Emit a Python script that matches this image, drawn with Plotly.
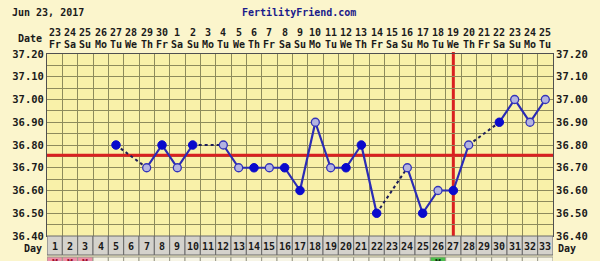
import plotly.graph_objects as go

# ---------------- data ----------------
days = list(range(1, 34))
date_labels = ["23", "24", "25", "26", "27", "28", "29", "30", "1", "2", "3", "4", "5", "6", "7", "8",
               "9", "10", "11", "12", "13", "14", "15", "16", "17", "18", "19", "20", "21", "22",
               "23", "24", "25"]
dow_labels = ["Fr", "Sa", "Su", "Mo", "Tu", "We", "Th", "Fr", "Sa", "Su", "Mo", "Tu", "We", "Th", "Fr", "Sa",
              "Su", "Mo", "Tu", "We", "Th", "Fr", "Sa", "Su", "Mo", "Tu", "We", "Th", "Fr", "Sa",
              "Su", "Mo", "Tu"]
temps = [None, None, None, None, 36.80, None, 36.70, 36.80, 36.70, 36.80, None, 36.80, 36.70,
         36.70, 36.70, 36.70, 36.60, 36.90, 36.70, 36.70, 36.80, 36.50, None, 36.70, 36.50,
         36.60, 36.60, 36.80, None, 36.90, 37.00, 36.90, 37.00]
# 1 = filled marker, 0 = open marker
filled = [0, 0, 0, 0, 1, 0, 0, 1, 0, 1, 0, 0, 0, 1, 0, 1, 1, 0, 0, 1, 1, 1, 0, 0, 1, 0, 1, 0, 0, 1, 0, 0, 0]
coverline = 36.755
ovulation_day = 27
y_ticks = [36.40, 36.50, 36.60, 36.70, 36.80, 36.90, 37.00, 37.10, 37.20]
chart_date = "Jun 23, 2017"
site = "FertilityFriend.com"
pink_days = [1, 2, 3]
green_days = [26]

# ---------------- layout geometry ----------------
W, H = 600, 261
ML, MR, MT, MB = 42, 38, 54, 25
PH = H - MT - MB  # plot height in px
PW = W - ML - MR


def py(px_from_top):
    """convert a pixel row to paper y"""
    return 1 - (px_from_top - MT) / PH


BG = "#FBF5CC"
PLOT_BG = "#F9F1A9"
GRID = "#8E8B5C"
FONT = "DejaVu Sans Mono"
TXT = "#1A1A1A"

fig = go.Figure()

# solid segments (gaps break them)
fig.add_trace(go.Scatter(x=days, y=temps, mode="lines", connectgaps=False,
                         line=dict(color="#2B2BB5", width=2.2), hoverinfo="skip", showlegend=False))

# dashed segments across gaps
for i, t in enumerate(temps):
    if t is None and i > 0 and temps[i - 1] is not None:
        j = i
        while j < len(temps) and temps[j] is None:
            j += 1
        if j < len(temps):
            fig.add_trace(go.Scatter(x=[days[i - 1], days[j]], y=[temps[i - 1], temps[j]], mode="lines",
                                     line=dict(color="#1C1C5A", width=2, dash="3px,3px"),
                                     hoverinfo="skip", showlegend=False))

# markers
xs_f = [d for d, t, f in zip(days, temps, filled) if t is not None and f]
ys_f = [t for t, f in zip(temps, filled) if t is not None and f]
xs_o = [d for d, t, f in zip(days, temps, filled) if t is not None and not f]
ys_o = [t for t, f in zip(temps, filled) if t is not None and not f]
fig.add_trace(go.Scatter(x=xs_o, y=ys_o, mode="markers", showlegend=False,
                         marker=dict(size=8, color="#B4B4E0", line=dict(color="#3434B8", width=1.3))))
fig.add_trace(go.Scatter(x=xs_f, y=ys_f, mode="markers", showlegend=False,
                         marker=dict(size=8.5, color="#0A0ACC", line=dict(color="#0A0ACC", width=1))))
# invisible trace for right axis
fig.add_trace(go.Scatter(x=[days[0]], y=[y_ticks[0]], yaxis="y2", mode="markers",
                         marker=dict(opacity=0), hoverinfo="skip", showlegend=False))

shapes = []
# coverline and ovulation line
shapes.append(dict(type="line", xref="x", yref="y", x0=0.5, x1=33.5, y0=coverline, y1=coverline,
                   line=dict(color="#D92020", width=3), layer="between"))
shapes.append(dict(type="line", xref="x", yref="paper", x0=ovulation_day, x1=ovulation_day, y0=0, y1=py(52),
                   line=dict(color="#D92020", width=3), layer="between"))

# day row and bottom row
annotations = []
for d in days:
    shapes.append(dict(type="rect", xref="x", yref="paper", x0=d - 0.5, x1=d + 0.5, y0=py(255), y1=py(236),
                       fillcolor="#D4D2CC", line=dict(color="#6A6A6A", width=1), layer="above"))
    fc = "#F7F5E6"
    if d in pink_days:
        fc = "#EE8FA8"
    if d in green_days:
        fc = "#4DBF4D"
    shapes.append(dict(type="rect", xref="x", yref="paper", x0=d - 0.5, x1=d + 0.5, y0=py(276), y1=py(257),
                       fillcolor=fc, line=dict(color="#9A9A8A", width=1), layer="above"))
    annotations.append(dict(x=d, y=py(246.5), xref="x", yref="paper", text="<b>%d</b>" % d, showarrow=False,
                            font=dict(family=FONT, size=10, color=TXT), xanchor="center", yanchor="middle"))
    annotations.append(dict(x=d, y=py(33), xref="x", yref="paper", text="<b>%s</b>" % date_labels[d - 1],
                            showarrow=False, font=dict(family=FONT, size=10, color=TXT),
                            xanchor="center", yanchor="middle"))
    annotations.append(dict(x=d, y=py(44.5), xref="x", yref="paper", text="<b>%s</b>" % dow_labels[d - 1],
                            showarrow=False, font=dict(family=FONT, size=10, color=TXT),
                            xanchor="center", yanchor="middle"))

for d in pink_days:
    annotations.append(dict(x=d, y=py(263), xref="x", yref="paper", text="<b>M</b>", showarrow=False,
                            font=dict(family=FONT, size=10, color="#A01030"), xanchor="center", yanchor="middle"))
for d in green_days:
    annotations.append(dict(x=d, y=py(263), xref="x", yref="paper", text="<b>M</b>", showarrow=False,
                            font=dict(family=FONT, size=10, color="#103010"), xanchor="center", yanchor="middle"))

annotations += [
    dict(x=-3 / PW, y=py(248.5), xref="paper", yref="paper", text="<b>Day</b>", showarrow=False,
         font=dict(family=FONT, size=10, color=TXT), xanchor="right", yanchor="middle"),
    dict(x=1 + 3 / PW, y=py(248.5), xref="paper", yref="paper", text="<b>Day</b>", showarrow=False,
         font=dict(family=FONT, size=10, color=TXT), xanchor="left", yanchor="middle"),
    dict(x=-3 / PW, y=py(38.5), xref="paper", yref="paper", text="<b>Date</b>", showarrow=False,
         font=dict(family=FONT, size=10, color=TXT), xanchor="right", yanchor="middle"),
    dict(x=(4 - ML) / PW, y=py(13), xref="paper", yref="paper", text="<b>%s</b>" % chart_date, showarrow=False,
         font=dict(family=FONT, size=10, color=TXT), xanchor="left", yanchor="middle"),
    dict(x=(301 - ML) / PW, y=py(13), xref="paper", yref="paper", text="<b>%s</b>" % site, showarrow=False,
         font=dict(family=FONT, size=10, color="#1A1A8A"), xanchor="center", yanchor="middle"),
]

tick_text = ["<b>%.2f</b>" % v for v in y_ticks]
yax = dict(range=[y_ticks[0], y_ticks[-1]], tickvals=y_ticks, ticktext=tick_text,
           showgrid=True, gridcolor=GRID, gridwidth=1, zeroline=False, ticks="", ticklen=0,
           tickfont=dict(family=FONT, size=10.5, color=TXT),
           minor=dict(dtick=0.05, tick0=36.40, showgrid=True, gridcolor=GRID, gridwidth=1),
           showline=True, linecolor="#505050", linewidth=1, fixedrange=True)

fig.update_layout(
    width=W, height=H, autosize=False,
    margin=dict(l=ML, r=MR, t=MT, b=MB, pad=0),
    paper_bgcolor=BG, plot_bgcolor=PLOT_BG,
    xaxis=dict(range=[0.5, 33.5], tick0=0.5, dtick=1, showgrid=True, gridcolor=GRID, gridwidth=1,
               showticklabels=False, ticks="", zeroline=False, showline=True, linecolor="#505050",
               linewidth=1, mirror=True, fixedrange=True),
    yaxis=yax,
    yaxis2=dict(overlaying="y", side="right", range=[y_ticks[0], y_ticks[-1]], tickvals=y_ticks,
                ticktext=tick_text, showgrid=False, zeroline=False,
                ticks="", tickfont=dict(family=FONT, size=10.5, color=TXT),
                showline=True, linecolor="#505050", linewidth=1, fixedrange=True),
    shapes=shapes, annotations=annotations, showlegend=False,
)

fig.write_html("out.html", config={"displayModeBar": False})
